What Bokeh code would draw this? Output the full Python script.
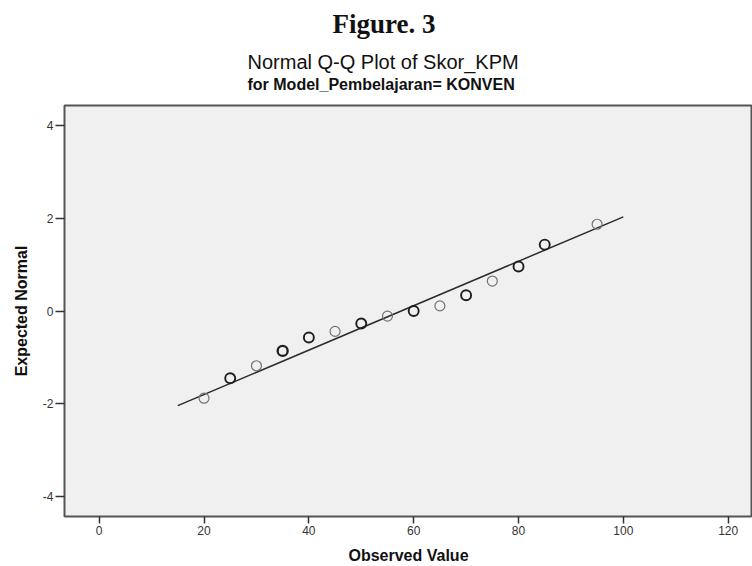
from bokeh.plotting import figure
from bokeh.models import FixedTicker, Range1d, ColumnDataSource, Title
from bokeh.embed import file_html
from bokeh.resources import INLINE

# ---- data ----
observed = [20, 25, 30, 35, 40, 45, 50, 55, 60, 65, 70, 75, 80, 85, 95]
expected = [-1.88, -1.45, -1.18, -0.86, -0.57, -0.44, -0.27, -0.11, 0.00, 0.11,
            0.34, 0.645, 0.96, 1.43, 1.87]
ties = [1, 2, 1, 3, 2, 1, 2, 1, 2, 1, 2, 1, 2, 2, 1]

ref_x = [15, 100]
ref_y = [-2.04, 2.03]

x_ticks = [0, 20, 40, 60, 80, 100, 120]
y_ticks = [-4, -2, 0, 2, 4]
y_tick_labels = ["-4", "-2", "0", "2", "4"]

fig_title = "Figure. 3"
chart_title = "Normal Q-Q Plot of Skor_KPM"
sub_title = "for Model_Pembelajaran= KONVEN"
x_label = "Observed Value"
y_label = "Expected Normal"

# ---- styling ----
colors = ["#737373" if t == 1 else "#1e1e1e" for t in ties]
widths = [1.2 if t == 1 else (1.9 if t == 2 else 2.3) for t in ties]
src = ColumnDataSource(dict(x=observed, y=expected, c=colors, w=widths))

p = figure(width=752, height=566,
           x_range=Range1d(-6.62, 124.64), y_range=Range1d(-4.43, 4.43),
           output_backend="svg", toolbar_location=None, title=None,
           min_border_left=64, min_border_right=0,
           min_border_top=105, min_border_bottom=49)

p.background_fill_color = "#f0f0f0"
p.border_fill_color = "white"
p.outline_line_color = "#555555"
p.outline_line_width = 2
p.grid.visible = False

p.line(ref_x, ref_y, line_color="#2a2a2a", line_width=1.5)
p.scatter("x", "y", source=src, marker="circle", size=10,
          fill_color=None, line_color="c", line_width="w")

for ax in (p.xaxis[0], p.yaxis[0]):
    ax.axis_line_color = None
    ax.major_tick_line_color = "#333333"
    ax.major_tick_line_width = 1.5
    ax.minor_tick_line_color = None
    ax.major_tick_in = 0
    ax.major_label_text_font = "Liberation Sans"
    ax.major_label_text_font_size = "12px"
    ax.major_label_text_color = "#333333"
    ax.axis_label_text_font = "Liberation Sans"
    ax.axis_label_text_font_style = "bold"
    ax.axis_label_text_font_size = "16px"
    ax.axis_label_text_color = "#111111"

p.xaxis.ticker = FixedTicker(ticks=x_ticks)
p.yaxis.ticker = FixedTicker(ticks=y_ticks)
p.yaxis.major_label_overrides = {t: s for t, s in zip(y_ticks, y_tick_labels)}
p.xaxis.major_tick_out = 7
p.yaxis.major_tick_out = 9
p.xaxis.major_label_standoff = 2
p.yaxis.major_label_standoff = 2
p.xaxis.axis_label = x_label
p.yaxis.axis_label = y_label
p.xaxis.axis_label_standoff = 9
p.yaxis.axis_label_standoff = 10

def spacer(gap):
    return Title(text=" ", text_font_size="1px", standoff=gap)

def title(txt, font, style, size, left, standoff):
    return Title(text=txt, align="left", offset=left, standoff=standoff,
                 text_font=font, text_font_style=style, text_font_size=size,
                 text_color="#111111")

# stacked from the frame outward
p.add_layout(spacer(10), "above")
p.add_layout(title(sub_title, "Liberation Sans", "bold", "16px", 183, 0), "above")
p.add_layout(title(chart_title, "Liberation Sans", "normal", "20px", 183, 1), "above")
p.add_layout(spacer(7), "above")
p.add_layout(title(fig_title, "Liberation Serif", "bold", "27px", 268, 0), "above")

open("out.html", "w").write(file_html(p, INLINE))
